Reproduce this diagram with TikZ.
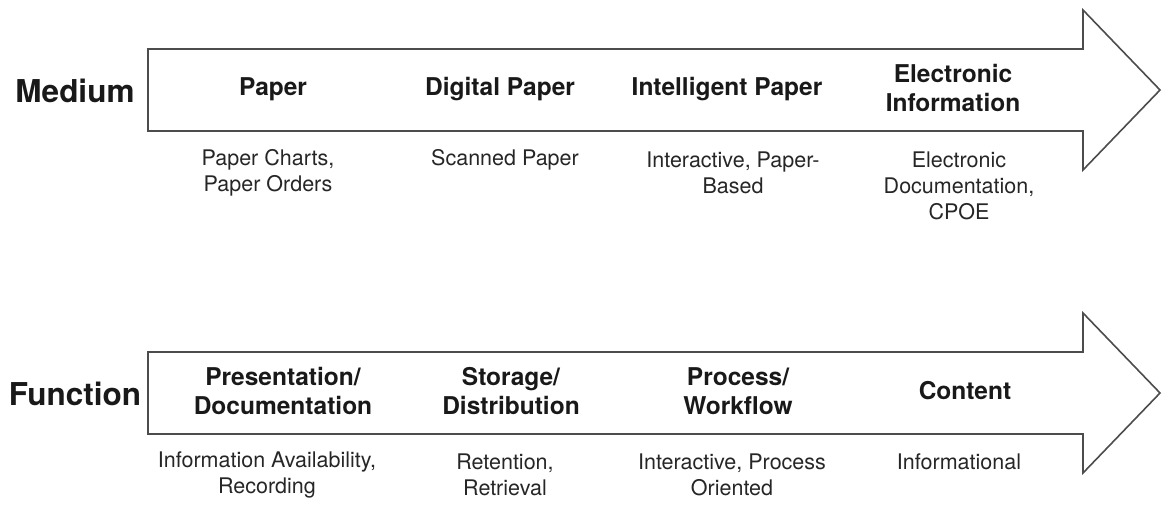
\documentclass[tikz,border=0pt]{standalone}
\usepackage{fontspec}
\setmainfont{TeX Gyre Heros}
\begin{document}
\begin{tikzpicture}[x=1pt,y=-1pt,
  arrowshape/.style={draw=black!70,line width=1.6pt,line join=miter,fill=white},
  rowlabel/.style={font=\fontsize{31.5}{37}\selectfont\bfseries,text=black!90,inner sep=0pt},
  stage/.style={font=\fontsize{24.5}{29.4}\selectfont\bfseries,text=black!90,align=center,inner sep=0pt},
  note/.style={font=\fontsize{21.5}{25.8}\selectfont,text=black!85,align=center,inner sep=0pt}]
\useasboundingbox (0,0) rectangle (1162,505);
% top arrow
\draw[arrowshape] (148,49) -- (1083,49) -- (1083,10) -- (1160,90) -- (1083,170) -- (1083,131) -- (148,131) -- cycle;
% bottom arrow
\draw[arrowshape] (148,352) -- (1083,352) -- (1083,313) -- (1160,393) -- (1083,473) -- (1083,434) -- (148,434) -- cycle;
% row labels
\node[rowlabel] (medium) at (75,91) {Medium};
\node[rowlabel] (function) at (75,394) {Function};
% top stages
\node[stage] (paper) at (273,89) {Paper};
\node[stage] (digital) at (500,89) {Digital Paper};
\node[stage] (intelligent) at (727,89) {Intelligent Paper};
\node[stage] (electronic) at (953,88) {Electronic\\Information};
% top notes
\node[note] (paperN) at (268,173) {Paper Charts,\\Paper Orders};
\node[note] (digitalN) at (505,160) {Scanned Paper};
\node[note] (intelligentN) at (733,173) {Interactive, Paper-\\Based};
\node[note] (electronicN) at (959,186) {Electronic\\Documentation,\\CPOE};
% bottom stages
\node[stage] (pres) at (283,391) {Presentation/\\Documentation};
\node[stage] (stor) at (511,391) {Storage/\\Distribution};
\node[stage] (proc) at (738,391) {Process/\\Workflow};
\node[stage] (cont) at (965,391) {Content};
% bottom notes
\node[note] (presN) at (267,475) {Information Availability,\\Recording};
\node[note] (storN) at (505,475) {Retention,\\Retrieval};
\node[note] (procN) at (732,475) {Interactive, Process\\Oriented};
\node[note] (contN) at (959,462) {Informational};
\end{tikzpicture}
\end{document}
